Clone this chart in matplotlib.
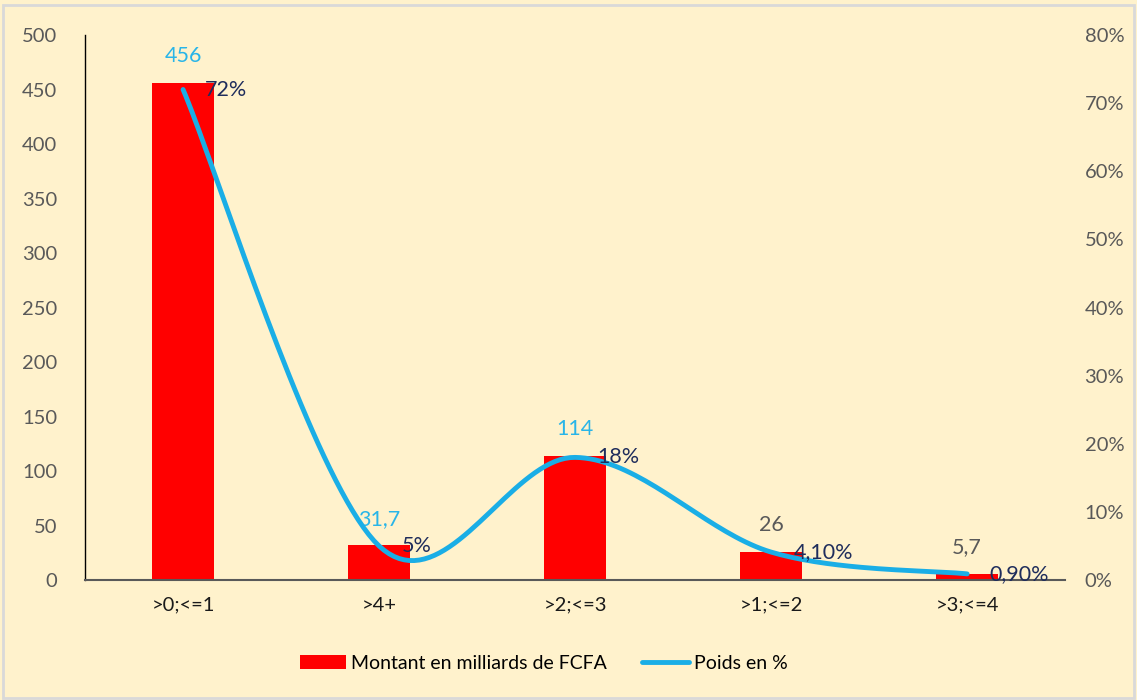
import numpy as np
import matplotlib.pyplot as plt
from matplotlib.patches import Rectangle

plt.rcParams['font.family'] = ['Lato', 'DejaVu Sans']

categories = ['>0;<=1', '>4+', '>2;<=3', '>1;<=2', '>3;<=4']
montant = [456, 31.7, 114, 26, 5.7]
poids = [0.72, 0.05, 0.18, 0.041, 0.009]
montant_labels = ['456', '31,7', '114', '26', '5,7']
poids_labels = ['72%', '5%', '18%', '4,10%', '0,90%']
montant_label_colors = ['#29B5E8', '#29B5E8', '#29B5E8', '#595959', '#595959']

bg = '#FFF2CC'
bar_color = '#FF0000'
line_color = '#1AAEE6'


def smooth(xs, ys, n=40):
    # Excel-style smoothing: cubic Bezier with control points at 1/6 of neighbour vectors
    p = np.column_stack([xs, ys]).astype(float)
    pts = np.vstack([p[0], p, p[-1]])
    out = []
    for i in range(1, len(pts) - 2):
        p0, p1, p2, p3 = pts[i - 1], pts[i], pts[i + 1], pts[i + 2]
        c1 = p1 + (p2 - p0) / 6
        c2 = p2 - (p3 - p1) / 6
        t = np.linspace(0, 1, n)[:, None]
        seg = (1 - t) ** 3 * p1 + 3 * (1 - t) ** 2 * t * c1 + 3 * (1 - t) * t ** 2 * c2 + t ** 3 * p2
        out.append(seg if i == 1 else seg[1:])
    out = np.vstack(out)
    return out[:, 0], out[:, 1]


fig = plt.figure(figsize=(11.37, 7), dpi=100, facecolor=bg)
fig.patches.append(Rectangle((0.003, 0.003), 0.994, 0.99, transform=fig.transFigure,
                             fill=False, edgecolor='#D9D9D9', lw=2))
ax = fig.add_axes([0.0748, 0.1714, 0.862, 0.7786])
ax.set_facecolor(bg)
x = np.arange(len(categories))

ax.bar(x, montant, width=0.32, color=bar_color, label='Montant en milliards de FCFA', zorder=2)
ax.set_ylim(0, 500)
ax.set_xlim(-0.5, len(categories) - 0.5)
ax.set_yticks(np.arange(0, 501, 50))
ax.set_xticks(x)
ax.set_xticklabels(categories, fontsize=14.5, color='#1A1A1A')
ax.tick_params(axis='y', length=0, labelsize=14.5, labelcolor='#595959', pad=20)
ax.tick_params(axis='x', length=0, pad=12)
for s in ['top', 'right']:
    ax.spines[s].set_visible(False)
ax.spines['left'].set_color('black')
ax.spines['left'].set_linewidth(1)
ax.spines['bottom'].set_color('#595959')
ax.spines['bottom'].set_linewidth(1.5)

ax2 = ax.twinx()
ax2.set_ylim(0, 0.8)
ax2.set_yticks(np.arange(0, 0.81, 0.1))
ax2.set_yticklabels([f'{int(round(v * 100))}%' for v in np.arange(0, 0.81, 0.1)])
ax2.tick_params(axis='y', length=0, labelsize=14.5, labelcolor='#595959', pad=14)
for s in ax2.spines.values():
    s.set_visible(False)

sx, sy = smooth(x, poids)
ax2.plot(sx, sy, color=line_color, lw=3.5, solid_capstyle='round', label='Poids en %', zorder=3)

for xi, v, lab, c in zip(x, montant, montant_labels, montant_label_colors):
    ax.annotate(lab, (xi, v), xytext=(0, 12), textcoords='offset points',
                ha='center', va='bottom', fontsize=15.5, color=c)
for xi, v, lab in zip(x, poids, poids_labels):
    ax2.annotate(lab, (xi, v), xytext=(16, 0), textcoords='offset points',
                 ha='left', va='center', fontsize=15.5, color='#1F2D5C', zorder=4)

h1, l1 = ax.get_legend_handles_labels()
h2, l2 = ax2.get_legend_handles_labels()
fig.legend(h1 + h2, l1 + l2, loc='center', bbox_to_anchor=(0.478, 0.052), ncol=2,
           frameon=False, fontsize=14, handlelength=2.4, columnspacing=1.8, handletextpad=0.25)

fig.savefig('out.png', dpi=100, facecolor=bg)
